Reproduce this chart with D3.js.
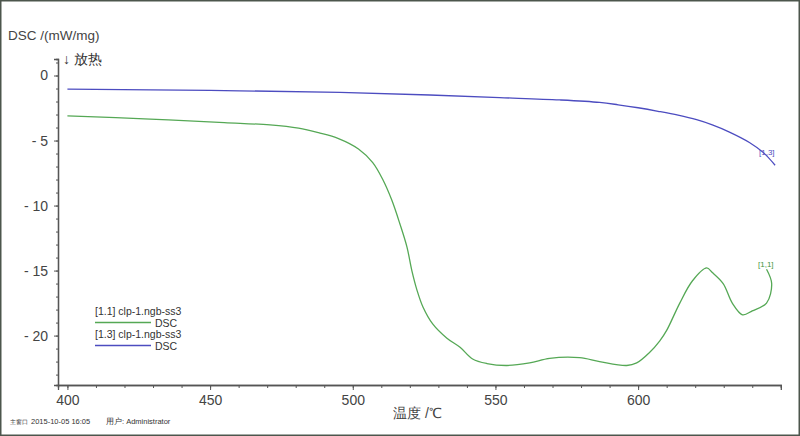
<!DOCTYPE html>
<html><head><meta charset="utf-8">
<script src="https://cdn.jsdelivr.net/npm/d3@7"></script>
<style>body{margin:0;background:#fff}svg{display:block}text{font-family:"Liberation Sans",Arial,sans-serif}</style>
</head><body><svg id="c" width="800" height="436"></svg>
<script>
const seriesNames = ["[1.1] clp-1.ngb-ss3", "[1.3] clp-1.ngb-ss3"];
const seriesTags = ["[1,1]", "[1,3]"];
const xMajorTicks = [400, 450, 500, 550, 600];
const yMajorTicks = [0, -5, -10, -15, -20];
const greenTemp = [400,429,455,471,481,488,495,502,507,510.6,513.7,516.5,519,520.7,522.5,524.6,528,533,537.6,542,547,554,562,569,579.5,586.5,596,599.5,604,607.6,610,614.6,619,624,626,629.8,633,636.6,640,645,646.8,645];
const greenDSC = [-3.1,-3.35,-3.62,-3.8,-4.05,-4.4,-4.85,-5.65,-6.7,-8.04,-9.6,-11.4,-13.2,-15,-16.5,-17.8,-19.1,-20.2,-20.9,-21.8,-22.15,-22.3,-22.1,-21.75,-21.7,-22.0,-22.3,-22.1,-21.3,-20.4,-19.6,-17.5,-15.8,-14.8,-15.15,-16,-17.5,-18.4,-18.1,-17.5,-16,-14.9];
const blueTemp = [400,450,495.5,527,551.5,572.5,586.5,593,600,607,614,620.5,626,632,639,644,648];
const blueDSC = [-1.05,-1.15,-1.29,-1.5,-1.7,-1.88,-2.07,-2.25,-2.48,-2.75,-3.05,-3.4,-3.8,-4.35,-5.15,-5.95,-6.9];

const svg = d3.select("#c");
const x = d3.scaleLinear().domain([396.7, 650]).range([58, 780.8]);
const y = d3.scaleLinear().domain([1.27, -23.8]).range([59, 385]);
const axisColor = "#555";

// frame
svg.append("rect").attr("x",0.75).attr("y",0.75).attr("width",798.5).attr("height",434.5)
  .attr("fill","none").attr("stroke","#4d564d").attr("stroke-width",1.5);

// x axis
const gx = svg.append("g").attr("transform","translate(0,385)");
gx.call(d3.axisBottom(x).tickValues(d3.range(400,650,10)).tickSize(3).tickFormat(""));
gx.call(g=>g.append("g").call(d3.axisBottom(x).tickValues(xMajorTicks).tickSize(5).tickFormat(d3.format("d"))));
gx.selectAll(".domain").attr("stroke",axisColor).attr("stroke-width",1.3);
gx.selectAll("line").attr("stroke",axisColor);
gx.selectAll("text").attr("fill","#444").attr("font-size",14).attr("dy","0.85em");

// y axis
const gy = svg.append("g").attr("transform","translate(58,0)");
gy.call(d3.axisLeft(y).tickValues(d3.range(-23,2,1)).tickSize(2).tickFormat(""));
gy.call(g=>g.append("g").call(d3.axisLeft(y).tickValues(yMajorTicks).tickSize(4).tickFormat(d=>d===0?"0":"- "+Math.abs(d))));
gy.selectAll(".domain").attr("stroke",axisColor).attr("stroke-width",1.3);
gy.selectAll("line").attr("stroke",axisColor);
gy.selectAll("text").attr("fill","#444").attr("font-size",14).attr("dx","-3");

// titles
svg.append("text").attr("x",8).attr("y",40).attr("font-size",13.5).attr("fill","#444").text("DSC /(mW/mg)");
svg.append("text").attr("x",63).attr("y",64).attr("font-size",14).attr("fill","#333").text("↓ 放热");
svg.append("text").attr("x",393).attr("y",418).attr("font-size",14).attr("fill","#444").text("温度 /℃");
svg.append("text").attr("x",10).attr("y",424).attr("font-size",5.8).attr("fill","#333").text("主窗口");
svg.append("text").attr("x",31).attr("y",424).attr("font-size",7.5).attr("fill","#333").text("2015-10-05 16:05");
svg.append("text").attr("x",106).attr("y",424).attr("font-size",7.5).attr("fill","#333").text("用户: Administrator");

// lines
const line = d3.line().x(d=>x(d[0])).y(d=>y(d[1])).curve(d3.curveCatmullRom.alpha(0.5));
const greenPts = greenTemp.map((t,i)=>[t,greenDSC[i]]);
const bluePts = blueTemp.map((t,i)=>[t,blueDSC[i]]);
const green = "#55a855", blue = "#4c4cc0";
svg.append("path").attr("d",line(bluePts)).attr("fill","none").attr("stroke",blue).attr("stroke-width",1.3);
svg.append("path").attr("d",line(greenPts)).attr("fill","none").attr("stroke",green).attr("stroke-width",1.3);

// end tags
svg.append("text").attr("x",759).attr("y",155).attr("font-size",8).attr("fill",blue).text(seriesTags[1]);
svg.append("text").attr("x",758).attr("y",267).attr("font-size",8).attr("fill","#3f963f").text(seriesTags[0]);

// legend
const leg = [{name:seriesNames[0],c:green,y:311},{name:seriesNames[1],c:blue,y:334}];
leg.forEach(l=>{
  svg.append("text").attr("x",95).attr("y",l.y+4).attr("font-size",10.5).attr("fill","#333").text(l.name);
  svg.append("line").attr("x1",95).attr("x2",151).attr("y1",l.y+11.5).attr("y2",l.y+11.5).attr("stroke",l.c).attr("stroke-width",1.3);
  svg.append("text").attr("x",155).attr("y",l.y+15.5).attr("font-size",10.5).attr("fill","#333").text("DSC");
});
</script></body></html>
